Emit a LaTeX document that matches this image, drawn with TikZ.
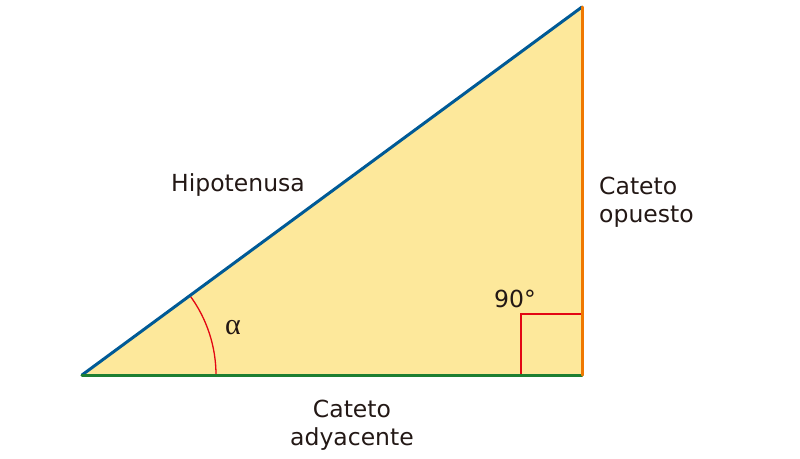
\documentclass[tikz,border=0pt]{standalone}
\usepackage{fontspec}
\setmainfont{DejaVu Sans}
\newfontfamily\alphafont{Liberation Serif}
\begin{document}
\begin{tikzpicture}[x=1pt,y=-1pt,
  lbl/.style={font=\fontsize{23.5}{28.5}\selectfont, text=txt, inner sep=0pt, align=center},
  side/.style={line width=3pt, line cap=round},
  redmark/.style={draw=redm, line width=1.3pt}]
\definecolor{fillc}{HTML}{FDE89B}
\definecolor{hypc}{HTML}{005A96}
\definecolor{basec}{HTML}{1E7F32}
\definecolor{vertc}{HTML}{F07800}
\definecolor{redm}{HTML}{E30613}
\definecolor{txt}{HTML}{231815}
\useasboundingbox (0,0) rectangle (800,458);
\coordinate (A) at (82,375);
\coordinate (B) at (582,375);
\coordinate (C) at (582,7);
\fill[fillc] (A) -- (B) -- (C) -- cycle;
\draw[redmark] (216,375) arc[start angle=0, end angle=-36.35, radius=134];
\draw[redmark] (521,375) -- (521,314) -- (582,314);
\draw[side, draw=hypc] (A) -- (C);
\draw[side, draw=basec] (A) -- (B);
\draw[side, draw=vertc] (B) -- (C);
\node[lbl] (hyp) at (238,185) {Hipotenusa};
\node[lbl, align=left, anchor=west] (op) at (599,202) {Cateto\\opuesto};
\node[lbl] (ady) at (352,425) {Cateto\\adyacente};
\node[lbl] (ang) at (515,299) {90°};
\node[font=\alphafont\fontsize{30}{30}\selectfont, text=txt, inner sep=0pt] (alpha) at (233,328) {α};
\end{tikzpicture}
\end{document}
